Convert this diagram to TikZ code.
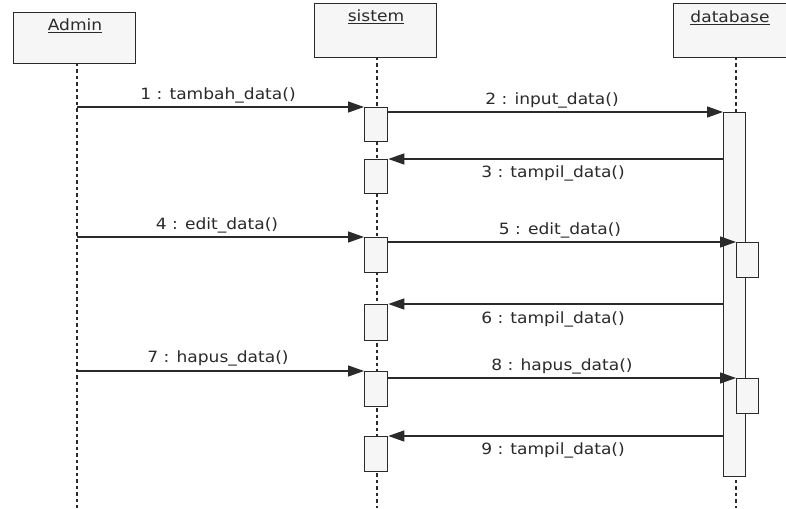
\documentclass[tikz,border=0pt]{standalone}
\usepackage{fontspec}
\setmainfont[FakeStretch=1.1]{DejaVu Sans}
\usetikzlibrary{arrows.meta}
\definecolor{boxfill}{HTML}{F6F6F6}
\definecolor{ink}{HTML}{2A2A2A}
\tikzset{
  obj/.style={draw=ink, fill=boxfill, line width=1.3pt, anchor=north west, inner sep=0pt},
  act/.style={draw=ink, fill=boxfill, line width=1.3pt, anchor=north west, inner sep=0pt, minimum width=23pt},
  life/.style={draw=ink, line width=1.6pt, dash pattern=on 3.5pt off 3pt},
  msg/.style={draw=ink, line width=1.3pt, -{Triangle[length=16pt,width=11pt]}},
  lbl/.style={text=ink, font=\fontsize{15.5}{17}\selectfont, inner sep=0pt},
  ttl/.style={text=ink, font=\fontsize{15.5}{17}\selectfont, inner sep=0pt}
}
\begin{document}
\begin{tikzpicture}[x=1pt,y=-1pt]
\useasboundingbox (0,0) rectangle (786,508);
\fill[white] (0,0) rectangle (786,508);
% lifelines
\coordinate (ad0) at (77,63);  \coordinate (ad1) at (77,508);
\coordinate (si0) at (377,57); \coordinate (si1) at (377,508);
\coordinate (db0) at (736,57); \coordinate (db1) at (736,508);
\draw[life] (ad0) -- (ad1);
\draw[life] (si0) -- (si1);
\draw[life] (db0) -- (db1);
% objects
\node[obj, minimum width=122pt, minimum height=51pt] (admin) at (13,12) {};
\node[ttl] (admint) at (75,26) {\underline{Admin}};
\node[obj, minimum width=122pt, minimum height=54pt] (sistem) at (314,3) {};
\node[ttl] (sistemt) at (376,17) {\underline{sistem}};
\node[obj, minimum width=113pt, minimum height=54pt] (database) at (673,3) {};
\node[ttl] (databaset) at (730,18) {\underline{database}};
% activations
\node[act, minimum height=34pt] (s1) at (364,107) {};
\node[act, minimum height=34pt] (s2) at (364,159) {};
\node[act, minimum height=35pt] (s3) at (364,237) {};
\node[act, minimum height=36pt] (s4) at (364,304) {};
\node[act, minimum height=35pt] (s5) at (364,371) {};
\node[act, minimum height=35pt] (s6) at (364,436) {};
\node[act, minimum width=22pt, minimum height=364pt] (db) at (723,112) {};
\node[act, minimum width=22pt, minimum height=35pt] (d1) at (736,242) {};
\node[act, minimum width=22pt, minimum height=35pt] (d2) at (736,378) {};
% admin message origins
\coordinate (a1) at (77,107);
\coordinate (a4) at (77,237);
\coordinate (a7) at (77,371);
% messages
\draw[msg] (a1) -- (s1.north west);
\draw[msg] (s1.east |- db.north) -- (db.north west);
\draw[msg] (db.west |- s2.north) -- (s2.north east);
\draw[msg] (a4) -- (s3.north west);
\draw[msg] (s3.east |- d1.north) -- (d1.north west);
\draw[msg] (db.west |- s4.north) -- (s4.north east);
\draw[msg] (a7) -- (s5.north west);
\draw[msg] (s5.east |- d2.north) -- (d2.north west);
\draw[msg] (db.west |- s6.north) -- (s6.north east);
% labels
\node[lbl] (l1) at (218,95) {1 : tambah\_data()};
\node[lbl] (l2) at (552,100) {2 : input\_data()};
\node[lbl] (l3) at (553,173) {3 : tampil\_data()};
\node[lbl] (l4) at (217,225) {4 : edit\_data()};
\node[lbl] (l5) at (560,230) {5 : edit\_data()};
\node[lbl] (l6) at (553,319) {6 : tampil\_data()};
\node[lbl] (l7) at (218,358) {7 : hapus\_data()};
\node[lbl] (l8) at (562,366) {8 : hapus\_data()};
\node[lbl] (l9) at (553,450) {9 : tampil\_data()};
\end{tikzpicture}
\end{document}
